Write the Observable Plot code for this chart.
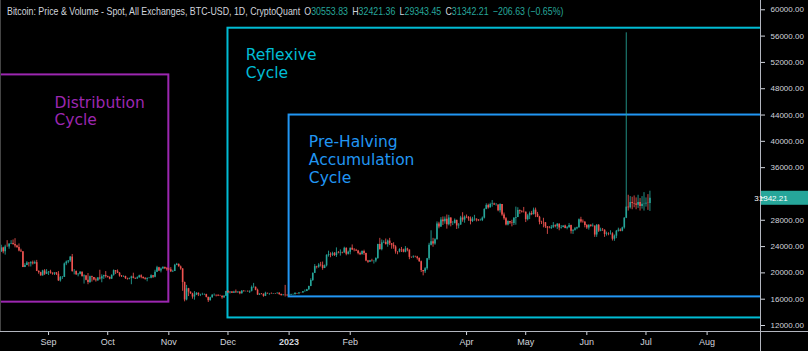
<!DOCTYPE html>
<html><head><meta charset="utf-8">
<script src="https://cdn.jsdelivr.net/npm/d3@7"></script>
<script src="https://cdn.jsdelivr.net/npm/@observablehq/plot@0.6"></script>
<style>
html,body{margin:0;padding:0;background:#000;}
#wrap{position:relative;width:808px;height:351px;overflow:hidden;background:#000;}
#title{position:absolute;left:7px;top:5px;font:10.5px "Liberation Sans",sans-serif;color:#d1d4dc;white-space:nowrap;transform:scaleX(0.84);transform-origin:0 0;}
#title .v{color:#26a69a;}
#title .k{margin-left:5px;}
</style></head>
<body><div id="wrap"><div id="title"></div></div>
<script>
// ---- title data ----
const titleText = "Bitcoin: Price & Volume - Spot, All Exchanges, BTC-USD, 1D, CryptoQuant";
const ohlcKeys = ["O", "H", "L", "C"];
const ohlcLast = ["30553.83", "32421.36", "29343.45", "31342.21"];
const changeText = "\u2212206.63 (\u22120.65%)";
const lastClose = 31342.21;

// ---- candle data (thousand USD), one per day from 2022-08-08 ----
const startDate = "2022-08-08";
const firstOpenK = 23.18;
const closeK = [
  // Aug 22
  23.80,23.20,23.95,23.93,24.40,24.45,24.30,24.10,23.85,23.34,23.20,20.83,21.14,21.50,21.40,21.53,21.37,21.56,20.24,20.04,19.55,20.29,19.80,20.05,
  // Sep
  20.13,19.95,19.83,20.00,19.80,18.79,19.29,19.32,21.36,21.65,21.83,22.40,20.20,20.23,19.70,19.80,20.11,19.42,19.54,18.88,18.54,19.41,19.30,18.93,18.80,19.23,19.08,19.41,19.59,19.43,
  // Oct
  19.31,19.05,19.63,20.34,20.16,19.96,19.53,19.42,19.45,19.13,19.06,19.16,19.38,19.18,19.07,19.26,19.55,19.33,19.13,19.04,19.16,19.20,19.57,19.33,20.09,20.77,20.29,20.60,20.81,20.63,20.49,
  // Nov
  20.48,20.16,20.21,21.15,21.30,20.91,20.59,18.54,15.88,17.59,17.07,16.81,16.33,16.62,16.90,16.66,16.69,16.70,16.70,16.28,15.78,16.22,16.60,16.60,16.52,16.46,16.44,16.22,16.44,17.17,
  // Dec
  16.97,17.09,16.89,17.11,16.97,17.09,16.84,17.23,17.13,17.13,17.09,17.21,17.78,17.81,17.36,16.63,16.78,16.74,16.44,16.90,16.82,16.83,16.78,16.84,16.83,16.92,16.71,16.55,16.63,16.60,16.54,
  // Jan 23
  16.61,16.67,16.67,16.85,16.83,16.95,16.94,17.12,17.18,17.44,17.94,18.85,19.93,20.95,20.87,21.18,21.13,20.67,21.07,22.67,22.78,22.71,22.92,22.63,23.06,23.01,23.08,23.03,23.74,22.83,23.13,
  // Feb
  23.73,23.49,23.43,23.33,22.94,22.76,23.26,22.96,21.80,21.63,21.86,21.79,21.79,22.20,24.33,23.53,24.57,24.63,24.29,24.84,24.44,24.19,23.94,23.19,23.16,23.55,23.49,23.14,
  // Mar
  23.63,23.47,22.36,22.35,22.43,22.41,22.20,21.70,20.36,20.19,20.63,22.16,24.20,24.75,24.38,25.05,27.42,26.97,28.04,27.77,28.17,27.31,28.33,27.49,27.49,27.99,27.14,27.27,28.35,28.03,28.48,
  // Apr
  28.45,28.20,27.80,28.17,28.18,28.04,27.92,27.95,28.33,29.65,30.24,29.89,30.40,30.49,30.32,30.32,29.45,30.40,28.82,28.25,27.28,27.82,27.59,27.52,28.30,28.42,29.47,29.34,29.25,29.23,
  // May
  28.09,28.68,29.03,28.85,29.54,28.90,28.45,27.69,27.65,27.62,26.99,26.80,26.78,26.93,27.17,27.03,27.40,26.83,26.89,27.11,26.75,26.85,27.22,26.33,26.48,26.72,26.87,28.08,27.75,27.70,27.21,
  // Jun
  26.82,27.25,27.07,27.12,25.76,27.24,26.35,26.50,26.48,25.85,25.94,25.90,25.92,25.12,25.58,26.33,26.51,26.34,26.84,28.31,30.00,29.89,30.69,30.55,30.48,30.27,30.69,30.08,30.45,30.47,
  // Jul
  30.59,30.554,31.342
];
const highK = [
  24.20,23.90,24.20,24.90,24.40,24.90,25.00,25.20,24.20,24.40,23.60,23.20,21.40,21.70,21.50,21.70,21.80,21.80,21.90,20.30,20.10,20.40,20.50,20.50,
  20.20,20.40,20.00,20.00,20.05,20.20,19.45,19.45,21.50,21.80,21.85,22.50,22.80,20.50,20.30,19.90,20.20,20.15,19.70,19.60,19.90,19.50,19.50,19.30,19.20,19.30,20.40,19.70,19.65,20.20,
  19.50,19.40,19.70,20.45,20.35,20.45,20.05,19.60,19.55,19.50,19.20,19.20,19.50,19.95,19.20,19.40,19.65,19.70,19.35,19.30,19.25,19.25,19.70,19.60,20.40,21.00,20.85,20.75,20.95,20.90,20.80,
  20.70,20.80,20.40,21.30,21.45,21.35,21.05,20.65,18.60,18.10,17.65,17.10,16.90,17.15,17.00,16.95,16.75,16.90,16.80,16.75,16.30,16.30,16.70,16.80,16.60,16.70,16.60,16.50,16.55,17.20,
  17.30,17.10,17.15,17.20,17.40,17.10,17.10,17.30,17.30,17.23,17.27,17.24,18.00,18.40,17.85,17.53,16.80,16.86,16.80,17.06,16.91,16.87,16.95,16.86,16.87,16.94,16.97,16.78,16.66,18.10,16.65,
  16.63,16.76,16.78,17.00,16.88,17.00,16.97,17.17,17.40,17.50,17.98,19.10,19.99,21.26,21.00,21.40,21.60,21.65,21.20,22.75,23.30,23.05,23.15,23.10,23.80,23.25,23.50,23.15,23.90,23.80,23.30,
  23.80,24.25,23.70,23.58,23.43,23.15,23.35,23.45,22.99,21.90,21.90,22.07,21.90,22.30,24.35,25.25,25.00,24.88,25.15,25.00,25.25,24.47,24.58,24.13,23.22,23.67,23.87,23.60,
  24.00,23.75,23.48,22.42,22.60,22.55,22.52,22.27,21.80,20.37,20.80,22.20,24.50,26.40,25.25,25.20,27.75,27.70,28.40,28.50,28.50,28.80,28.75,28.40,27.80,28.20,28.00,27.50,28.60,29.15,28.65,
  28.80,28.55,28.50,28.45,28.75,28.20,28.10,28.17,28.50,29.75,30.50,30.45,30.60,31.00,30.60,30.55,30.35,30.50,30.40,29.10,28.40,27.90,27.82,28.00,28.40,30.00,29.90,29.57,29.45,29.95,
  29.25,28.90,29.25,29.35,29.85,29.85,29.20,28.60,27.85,28.30,27.65,27.05,27.05,27.20,27.65,27.30,27.50,27.45,27.20,27.15,27.25,27.05,27.50,27.25,26.55,26.90,26.95,28.20,28.45,28.05,27.80,
  27.35,27.30,27.30,27.45,27.13,27.35,27.35,26.80,26.75,26.55,26.20,26.10,26.40,26.10,25.75,26.45,26.80,26.70,26.95,28.40,56.50,31.80,31.60,31.50,31.70,31.40,31.80,31.30,31.60,32.20,
  31.40,31.90,32.421
];
const lowK = [
  23.10,22.90,22.70,23.90,23.60,24.30,24.20,23.80,23.70,23.20,23.10,20.80,20.80,21.10,20.90,20.90,21.20,21.30,20.20,19.80,19.50,19.50,19.60,19.75,
  19.60,19.80,19.65,19.60,19.60,18.70,18.60,19.00,19.30,21.10,21.40,21.60,20.10,19.70,19.60,19.40,19.70,19.40,18.30,18.80,18.20,18.40,18.60,18.80,18.60,18.70,18.90,18.50,19.00,19.20,
  19.20,18.95,19.00,19.50,19.75,19.90,19.35,19.30,19.30,19.00,18.90,18.95,18.20,19.10,19.00,19.05,19.20,19.10,19.05,18.90,18.65,19.10,19.10,19.15,19.25,20.05,20.20,20.00,20.55,20.50,20.25,
  20.35,20.05,20.05,20.20,21.10,20.90,20.40,17.20,15.60,15.75,16.40,16.75,16.00,15.85,16.55,16.40,16.40,16.55,16.55,16.20,15.50,15.70,16.15,16.45,16.35,16.40,16.40,16.00,16.10,16.42,
  16.85,16.80,16.88,16.88,16.90,16.90,16.68,16.75,17.10,17.09,17.07,16.87,17.10,17.66,17.28,16.58,16.58,16.67,16.30,16.40,16.75,16.60,16.77,16.78,16.73,16.79,16.59,16.47,16.49,16.34,16.47,
  16.50,16.55,16.60,16.66,16.75,16.68,16.90,16.91,17.10,17.15,17.30,17.90,18.70,19.90,20.60,20.70,20.90,20.40,20.65,20.90,22.40,22.30,22.50,22.50,22.35,22.90,22.55,22.90,23.00,22.60,22.72,
  22.75,23.40,23.20,23.25,22.75,22.63,22.75,22.67,21.70,21.45,21.60,21.65,21.35,21.55,22.05,23.50,23.35,24.45,24.25,23.90,24.15,23.60,23.60,22.85,22.75,23.05,23.10,23.05,
  23.05,23.20,22.00,22.20,22.20,22.30,21.95,21.60,20.05,19.55,19.90,20.40,21.90,24.10,23.90,24.20,25.00,26.70,26.90,27.20,27.40,26.65,27.15,27.00,27.20,27.45,26.60,26.70,27.25,27.70,27.55,
  28.25,27.85,27.30,27.65,27.85,27.75,27.80,27.88,27.80,28.20,29.60,29.70,29.85,30.00,30.25,30.15,29.30,29.10,28.60,28.00,27.15,27.15,27.35,27.00,27.20,27.25,28.40,28.90,29.10,29.10,
  27.65,27.90,28.10,28.70,28.80,28.40,28.40,27.30,27.35,26.85,26.75,25.85,26.70,26.60,26.75,26.85,26.60,26.40,26.65,26.85,26.70,26.55,26.80,25.90,25.85,26.35,26.55,26.80,27.55,27.55,26.85,
  26.60,26.50,26.95,26.95,25.40,25.40,26.15,26.25,26.30,25.40,25.60,25.65,25.75,24.85,24.80,25.20,26.20,26.25,26.25,26.65,28.25,29.40,29.70,29.60,29.90,29.60,29.80,29.40,29.70,29.40,
  30.00,29.50,29.343
];

// ---- annotation zones ----
const zoneLabels = ["Distribution\nCycle", "Reflexive\nCycle", "Pre-Halving\nAccumulation\nCycle"];
const zoneColors = ["#9c27b0", "#00bcd4", "#2196f3"];
const zoneStart = ["2022-06-01", "2022-12-01", "2023-01-01"];
const zoneEnd = ["2022-11-01", "2024-01-01", "2024-01-01"];
const zoneLow = [15550, 13150, 16350];
const zoneHigh = [50100, 57200, 44000];
const labelDate = ["2022-09-04", "2022-12-10", "2023-01-11"];
const labelPrice = [47050, 54320, 41050];

// ---- axes ----
const xTickDates = ["2022-09-01","2022-10-01","2022-11-01","2022-12-01","2023-01-01","2023-02-01","2023-04-01","2023-05-01","2023-06-01","2023-07-01","2023-08-01"];
const xTickLabels = ["Sep","Oct","Nov","Dec","2023","Feb","Apr","May","Jun","Jul","Aug"];
// 32000 is hidden behind the last-price label in the reference
const yTicks = [12000,16000,20000,24000,28000,36000,40000,44000,48000,52000,56000,60000];

// ---- build tables ----
const UP = "#26a69a", DOWN = "#ef5350";
const FONT = "'Liberation Sans',Arial,sans-serif";
const t0 = new Date(startDate);
const candles = closeK.map((c, i) => {
  const open = (i === 0 ? firstOpenK : closeK[i - 1]) * 1000;
  const close = c * 1000;
  return {
    date: d3.utcDay.offset(t0, i),
    open, close,
    high: Math.max(highK[i] * 1000, open, close),
    low: Math.min(lowK[i] * 1000, open, close)
  };
});
const zones = zoneLabels.map((l, i) => ({
  x1: new Date(zoneStart[i]), x2: new Date(zoneEnd[i]), y1: zoneLow[i], y2: zoneHigh[i], color: zoneColors[i]
}));
const labels = zoneLabels.map((l, i) => ({text: l, x: new Date(labelDate[i]), y: labelPrice[i], color: zoneColors[i]}));
const tickDates = xTickDates.map(d => new Date(d));
const tickLabelMap = new Map(tickDates.map((d, i) => [+d, xTickLabels[i]]));

const sep1 = new Date("2022-09-01");
const xDomain = [d3.utcHour.offset(sep1, -24.34 * 24), d3.utcHour.offset(sep1, 361.1 * 24)];

const chart = Plot.plot({
  width: 808, height: 351,
  marginLeft: 0, marginRight: 48, marginTop: 0, marginBottom: 20,
  style: {background: "#000", color: "#d1d4dc", fontFamily: FONT, fontSize: "8.5px"},
  x: {type: "utc", domain: xDomain},
  y: {domain: [11089, 61413]},
  color: {type: "identity"},
  marks: [
    Plot.rect(zones, {x1: "x1", x2: "x2", y1: "y1", y2: "y2", fill: "none", stroke: "color", strokeWidth: 2, clip: true}),
    Plot.ruleX(candles, {x: "date", y1: "low", y2: "high", stroke: d => d.close >= d.open ? UP : DOWN, strokeWidth: 1, strokeOpacity: 0.85, clip: true}),
    Plot.ruleX(candles, {x: "date", y1: "open", y2: "close", stroke: d => d.close >= d.open ? UP : DOWN, strokeWidth: 1.6, clip: true}),
    Plot.text(labels, {x: "x", y: "y", text: "text", fill: "color", textAnchor: "start", lineAnchor: "top", lineHeight: 1.15, fontSize: 15.5, fontFamily: "DejaVu Sans"}),
    Plot.axisX({ticks: tickDates, tickFormat: d => tickLabelMap.get(+d), tickSize: 4, tickPadding: 3, anchor: "bottom", fontSize: 9}),
    Plot.axisY({anchor: "right", ticks: yTicks, tickFormat: d => d.toFixed(2), tickSize: 4, tickPadding: 6, fontSize: 8})
  ]
});

const svg = d3.select(chart);
svg.selectAll("text").filter(function() { return this.textContent === "2023"; }).attr("font-weight", "bold");
const lineColor = "#b2b5be";
svg.append("line").attr("x1", 760.5).attr("x2", 760.5).attr("y1", 0).attr("y2", 351).attr("stroke", lineColor);
svg.append("line").attr("x1", 0).attr("x2", 808).attr("y1", 331.5).attr("y2", 331.5).attr("stroke", lineColor);
svg.append("line").attr("x1", 0.5).attr("x2", 0.5).attr("y1", 0).attr("y2", 331).attr("stroke", "#444");

// last price label
const yy = chart.scale("y").apply(lastClose);
svg.append("rect").attr("x", 761).attr("y", yy - 7).attr("width", 47).attr("height", 14).attr("fill", UP);
svg.append("line").attr("x1", 761).attr("x2", 765).attr("y1", yy).attr("y2", yy).attr("stroke", "#fff");
svg.append("text").attr("x", 771).attr("y", yy).attr("dy", "0.35em").attr("fill", "#fff")
  .attr("font-size", 8).attr("font-family", FONT).text(lastClose.toFixed(2));

document.getElementById("wrap").prepend(chart);

// title
const title = document.getElementById("title");
let html = titleText;
ohlcKeys.forEach((k, i) => { html += `<span class="k">${k}</span><span class="v">${ohlcLast[i]}</span>`; });
html += `<span class="v k">${changeText}</span>`;
title.innerHTML = html;
</script>
</body></html>
